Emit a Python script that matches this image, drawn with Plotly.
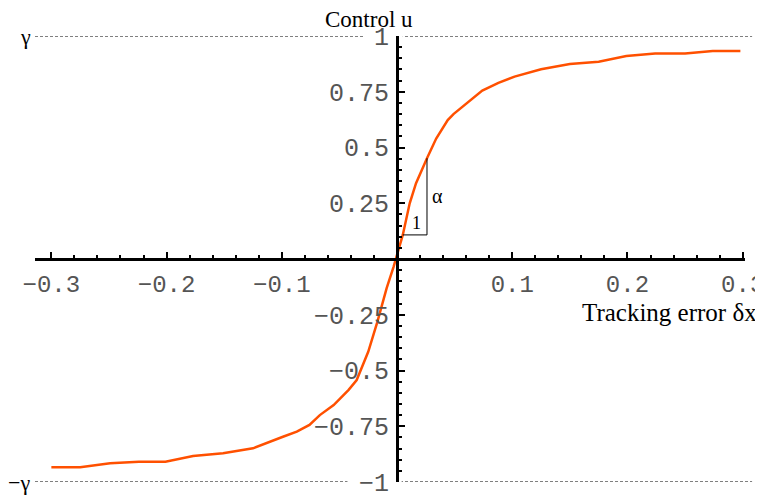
import plotly.graph_objects as go

# control curve u(dx)
dx = [-0.300, -0.275, -0.249, -0.224, -0.201, -0.177, -0.151, -0.125, -0.099, -0.087,
      -0.076, -0.067, -0.055, -0.042, -0.035, -0.025, -0.017, -0.009, -0.003, 0.0,
      0.005, 0.011, 0.0165, 0.026, 0.034, 0.044, 0.049, 0.074, 0.088, 0.102,
      0.125, 0.150, 0.175, 0.199, 0.224, 0.250, 0.274, 0.298]
u = [-0.934, -0.934, -0.916, -0.909, -0.909, -0.883, -0.871, -0.849, -0.797, -0.774,
     -0.744, -0.700, -0.655, -0.587, -0.543, -0.416, -0.281, -0.131, -0.035, 0.018,
     0.108, 0.250, 0.340, 0.452, 0.540, 0.623, 0.650, 0.755, 0.790, 0.818,
     0.851, 0.874, 0.885, 0.910, 0.922, 0.922, 0.933, 0.933]

# slope triangle (alpha over 1)
tri_x = [0.005, 0.026, 0.026]
tri_y = [0.108, 0.108, 0.452]

x_ticks = [-0.3, -0.2, -0.1, 0.1, 0.2, 0.3]
x_labels = ["−0.3", "−0.2", "−0.1", "0.1", "0.2", "0.3"]
y_ticks = [-1, -0.75, -0.5, -0.25, 0.25, 0.5, 0.75, 1]
y_labels = ["−1", "−0.75", "−0.5", "−0.25", "0.25", "0.5", "0.75", "1"]

x_minor = [round(-0.3 + 0.02 * i, 2) for i in range(31)]
y_minor = [round(-1 + 0.05 * i, 2) for i in range(41)]

mono = "Liberation Mono"
serif = "Liberation Serif"

fig = go.Figure()
fig.add_trace(go.Scatter(x=dx, y=u, mode="lines",
                         line=dict(color="#ff5000", width=2.5), cliponaxis=False))
fig.add_trace(go.Scatter(x=tri_x, y=tri_y, mode="lines",
                         line=dict(color="black", width=1)))

# gamma lines, broken around the tick labels
for yy, xa, xb in [(1, -0.028, 0.005), (-1, -0.043, 0.004)]:
    fig.add_shape(type="line", xref="paper", x0=0, x1=1.01, yref="y", y0=yy, y1=yy,
                  line=dict(color="black", width=1.2, dash="3px,2px"), layer="below")
    fig.add_shape(type="line", xref="x", x0=xa, x1=xb, yref="y", y0=yy, y1=yy,
                  line=dict(color="white", width=4), layer="below")

# page body has an 8px margin, so the figure is 8px smaller each way
fig.update_layout(
    width=755, height=492,
    margin=dict(l=27, r=18, t=28, b=18, autoexpand=False),
    plot_bgcolor="white", paper_bgcolor="white",
    showlegend=False,
    xaxis=dict(range=[-0.3142, 0.302], anchor="free", position=0.5, automargin=False,
               showgrid=False, zeroline=False, showline=True, linecolor="black", linewidth=3,
               tickmode="array", tickvals=x_ticks, ticktext=x_labels,
               ticks="inside", ticklen=6, tickwidth=1.5, tickcolor="black",
               minor=dict(tickmode="array", tickvals=x_minor, ticks="inside", ticklen=3,
                          tickwidth=1.5, tickcolor="black"),
               tickfont=dict(family=mono, size=24, color="#555"), ticklabelstandoff=2,
               ticklabeloverflow="allow"),
    yaxis=dict(range=[-1, 1], anchor="free", position=(397 - 35) / 710, automargin=False,
               showgrid=False, zeroline=False, showline=True, linecolor="black", linewidth=3,
               tickmode="array", tickvals=y_ticks, ticktext=y_labels,
               ticks="inside", ticklen=6, tickwidth=1.5, tickcolor="black",
               minor=dict(tickmode="array", tickvals=y_minor, ticks="inside", ticklen=3,
                          tickwidth=1.5, tickcolor="black"),
               tickfont=dict(family=mono, size=25, color="#555"), ticklabelstandoff=2,
               ticklabeloverflow="allow"),
)

ann = [
    dict(text="Control u", x=0, xref="x", xanchor="center", xshift=-28, y=1, yref="paper",
         yanchor="bottom", yshift=2, size=23),
    dict(text="Tracking error δx", x=1, xref="paper", xanchor="right", xshift=14,
         y=-0.238, yref="y", yanchor="middle", size=25),
    dict(text="γ", x=0, xref="paper", xanchor="right", y=1, yref="y", yanchor="middle",
         xshift=-2, size=22),
    dict(text="−γ", x=0, xref="paper", xanchor="right", y=-1, yref="y", yanchor="middle",
         xshift=-3, size=22),
    dict(text="1", x=0.0171, xref="x", xanchor="center", y=0.108, yref="y", yanchor="bottom",
         size=18),
    dict(text="α", x=0.029, xref="x", xanchor="left", y=0.283, yref="y", yanchor="middle",
         size=20),
]
for a in ann:
    size = a.pop("size")
    fig.add_annotation(showarrow=False, font=dict(family=serif, size=size, color="black"), **a)

fig.write_html("out.html")
